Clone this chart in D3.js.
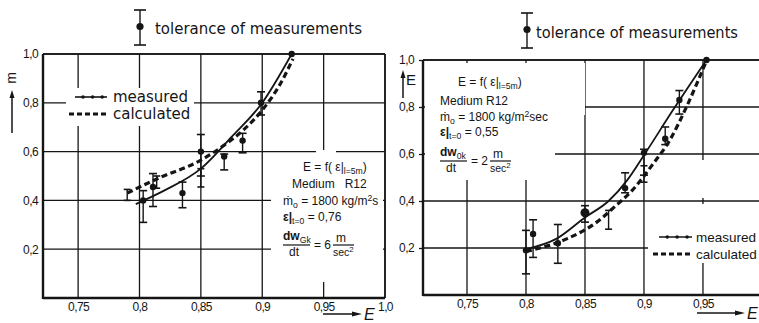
<!DOCTYPE html>
<html>
<head>
<meta charset="utf-8">
<script src="https://cdn.jsdelivr.net/npm/d3@7/dist/d3.min.js"></script>
<style>
  body { margin: 0; background: #fff; }
  svg { display: block; }
  text { font-family: "Liberation Sans", "DejaVu Sans", sans-serif; fill: #151515; }
</style>
</head>
<body>
<svg id="chart" width="759" height="323"></svg>
<script>
// tick values / labels
const xTicks = [0.75, 0.8, 0.85, 0.9, 0.95, 1.0];
const xTickLabels = ["0,75", "0,8", "0,85", "0,9", "0,95", "1,0"];
const yTicks = [0.2, 0.4, 0.6, 0.8, 1.0];
const yTickLabels = ["0,2", "0,4", "0,6", "0,8", "1,0"];

// left panel: m over eps (measured points with tolerance)
const leftEps  = [0.803, 0.811, 0.835, 0.85, 0.869, 0.884, 0.899, 0.924];
const leftM    = [0.40, 0.455, 0.43, 0.60, 0.58, 0.645, 0.80, 1.0];
const leftLow  = [0.31, 0.375, 0.37, 0.50, 0.525, 0.595, 0.75, 1.0];
const leftHigh = [0.44, 0.51, 0.475, 0.67, 0.59, 0.675, 0.845, 1.0];
// measured fit (solid) and calculated (dashed)
const leftFitEps  = [0.797, 0.82, 0.85, 0.875, 0.9, 0.924];
const leftFitM    = [0.385, 0.44, 0.53, 0.66, 0.80, 1.0];
const leftCalcEps = [0.79, 0.815, 0.85, 0.87, 0.885, 0.9, 0.915, 0.925];
const leftCalcM   = [0.43, 0.49, 0.565, 0.63, 0.69, 0.77, 0.88, 0.98];
const leftCalcErrEps  = [0.79, 0.814, 0.85];
const leftCalcErrLow  = [0.40, 0.45, 0.455];
const leftCalcErrHigh = [0.445, 0.50, 0.53];

// right panel: E over eps
const rightEps  = [0.80, 0.806, 0.827, 0.85, 0.884, 0.90, 0.918, 0.93, 0.953];
const rightE    = [0.19, 0.26, 0.22, 0.35, 0.455, 0.605, 0.665, 0.83, 1.0];
const rightLow  = [0.09, 0.16, 0.135, 0.31, 0.435, 0.51, 0.64, 0.77, 1.0];
const rightHigh = [0.275, 0.32, 0.30, 0.38, 0.52, 0.62, 0.715, 0.87, 1.0];
const rightFitEps  = [0.80, 0.826, 0.85, 0.87, 0.886, 0.90, 0.925, 0.953];
const rightFitE    = [0.195, 0.24, 0.33, 0.40, 0.49, 0.595, 0.79, 1.0];
const rightCalcEps = [0.80, 0.835, 0.86, 0.875, 0.89, 0.908, 0.922, 0.936, 0.952];
const rightCalcE   = [0.185, 0.24, 0.31, 0.375, 0.445, 0.56, 0.66, 0.80, 0.985];
const rightCalcErrEps  = [0.87, 0.90];
const rightCalcErrLow  = [0.28, 0.48];
const rightCalcErrHigh = [0.36, 0.55];

const svg = d3.select("#chart");
const ink = "#151515";

const zip = (a, b) => a.map((v, i) => [v, b[i]]);

function errorBar(g, cx, y1, y2, w) {
  g.append("line").attr("x1", cx).attr("x2", cx).attr("y1", y1).attr("y2", y2)
    .attr("stroke", ink).attr("stroke-width", 1.4);
  [y1, y2].forEach(yy => g.append("line").attr("x1", cx - w / 2).attr("x2", cx + w / 2)
    .attr("y1", yy).attr("y2", yy).attr("stroke", ink).attr("stroke-width", 1.6));
}

function drawPanel(p) {
  const g = svg.append("g");
  const x = d3.scaleLinear().domain(p.xDomain).range(p.xRange);
  const y = d3.scaleLinear().domain([0, 1]).range(p.yRange);
  const [x0, x1] = p.xRange;
  const [yb, yt] = p.yRange;

  // grid
  const grid = g.append("g").attr("stroke", ink).attr("stroke-width", 1.3);
  grid.selectAll(".gx").data(p.xTicks).enter().append("line")
    .attr("x1", d => x(d)).attr("x2", d => x(d)).attr("y1", yt).attr("y2", yb);
  grid.selectAll(".gy").data(yTicks).enter().append("line")
    .attr("x1", x0).attr("x2", x1).attr("y1", d => y(d)).attr("y2", d => y(d));

  // masks behind annotation and legend
  p.masks.forEach(m => g.append("rect").attr("x", m[0]).attr("y", m[1])
    .attr("width", m[2]).attr("height", m[3]).attr("fill", "#fff"));

  // frame
  g.append("line").attr("x1", x0).attr("x2", x0).attr("y1", yt).attr("y2", yb + 1)
    .attr("stroke", ink).attr("stroke-width", 2.4);
  g.append("line").attr("x1", x0).attr("x2", x1).attr("y1", yb).attr("y2", yb)
    .attr("stroke", ink).attr("stroke-width", 2.4);
  g.append("line").attr("x1", x0).attr("x2", x1).attr("y1", yt).attr("y2", yt)
    .attr("stroke", ink).attr("stroke-width", 1.6);
  if (p.rightEdge) g.append("line").attr("x1", x1).attr("x2", x1).attr("y1", yt).attr("y2", yb)
    .attr("stroke", ink).attr("stroke-width", 1.6);

  // axes (labels only)
  const xa = g.append("g").attr("transform", `translate(0,${yb})`)
    .call(d3.axisBottom(x).tickValues(p.xTicks)
      .tickFormat(d => xTickLabels[xTicks.indexOf(d)]).tickSize(0).tickPadding(4));
  const ya = g.append("g").attr("transform", `translate(${x0},0)`)
    .call(d3.axisLeft(y).tickValues(yTicks)
      .tickFormat(d => yTickLabels[yTicks.indexOf(d)]).tickSize(p.yTickSize).tickPadding(5));
  [xa, ya].forEach(a => {
    a.select(".domain").remove();
    a.selectAll("text").attr("font-size", 12).attr("fill", ink).attr("letter-spacing", -0.6)
      .style("font-family", "'Liberation Sans', sans-serif");
    a.selectAll("line").attr("stroke", ink).attr("stroke-width", 1.3);
  });

  // curves
  const line = d3.line().x(d => x(d[0])).y(d => y(d[1])).curve(d3.curveMonotoneX);
  g.append("path").datum(zip(p.calcEps, p.calcVal)).attr("d", line)
    .attr("fill", "none").attr("stroke", ink).attr("stroke-width", 3.2)
    .attr("stroke-dasharray", "6,3.5");
  g.append("path").datum(zip(p.fitEps, p.fitVal)).attr("d", line)
    .attr("fill", "none").attr("stroke", ink).attr("stroke-width", 1.8);

  // calculated tolerance bars
  p.calcErrEps.forEach((e, i) => errorBar(g, x(e), y(p.calcErrHigh[i]), y(p.calcErrLow[i]), 7));

  // measured points with tolerance
  p.eps.forEach((e, i) => {
    if (p.high[i] !== p.low[i]) errorBar(g, x(e), y(p.high[i]), y(p.low[i]), 8);
    g.append("circle").attr("cx", x(e)).attr("cy", y(p.val[i])).attr("r", i === p.bigDot ? 4.5 : 3.2)
      .attr("fill", ink);
  });

  // top tolerance legend
  const tl = p.tolLegend;
  errorBar(g, tl.x, tl.y1, tl.y2, 12);
  g.append("circle").attr("cx", tl.x).attr("cy", (tl.y1 + tl.y2) / 2 - 1).attr("r", 3.6).attr("fill", ink);
  g.append("text").attr("x", tl.tx).attr("y", tl.ty).attr("font-size", 15)
    .attr("textLength", tl.tw).attr("lengthAdjust", "spacingAndGlyphs")
    .style("font-family", "'DejaVu Sans', sans-serif").text("tolerance of measurements");

  // measured / calculated legend
  const lg = p.legend;
  g.append("line").attr("x1", lg.x1).attr("x2", lg.x2).attr("y1", lg.y).attr("y2", lg.y)
    .attr("stroke", ink).attr("stroke-width", 1.6);
  [0.25, 0.55, 0.85].forEach(f => g.append("circle")
    .attr("cx", lg.x1 + f * (lg.x2 - lg.x1)).attr("cy", lg.y).attr("r", 1.8).attr("fill", ink));
  g.append("line").attr("x1", lg.x1 - 6).attr("x2", lg.x2).attr("y1", lg.y + 17).attr("y2", lg.y + 17)
    .attr("stroke", ink).attr("stroke-width", 3.2).attr("stroke-dasharray", "5,3");
  g.append("text").attr("x", lg.tx).attr("y", lg.y + 5).attr("font-size", lg.fs)
    .style("font-family", lg.font).text("measured");
  g.append("text").attr("x", lg.tx).attr("y", lg.y + 22).attr("font-size", lg.fs)
    .style("font-family", lg.font).text("calculated");

  // annotation block
  const an = p.note;
  const fs = 12;
  let t = g.append("text").attr("x", an.x + an.dx0).attr("y", an.y).attr("font-size", fs);
  t.append("tspan").text("E = f( ε|");
  t.append("tspan").attr("font-size", "72%").attr("dy", 3).text("l=5m");
  t.append("tspan").attr("dy", -3).text(")");
  g.append("text").attr("x", an.x + an.dx1).attr("y", an.y + an.dy[0]).attr("font-size", fs)
    .attr("xml:space", "preserve").text(an.medium);
  t = g.append("text").attr("x", an.x).attr("y", an.y + an.dy[1]).attr("font-size", fs);
  t.append("tspan").text("ṁ");
  t.append("tspan").attr("font-size", "72%").attr("dy", 3).text("o");
  t.append("tspan").attr("dy", -3).text(" = 1800 kg/m");
  t.append("tspan").attr("font-size", "72%").attr("dy", -4).text("2");
  t.append("tspan").attr("dy", 4).text(an.unit);
  t = g.append("text").attr("x", an.x).attr("y", an.y + an.dy[2]).attr("font-size", fs);
  t.append("tspan").attr("font-weight", "bold").text("ε|");
  t.append("tspan").attr("font-size", "72%").attr("dy", 3).text("t=0");
  t.append("tspan").attr("dy", -3).text(" = " + an.eps0);
  // fraction dw/dt
  const fy = an.y + an.dy[3];
  t = g.append("text").attr("x", an.x).attr("y", fy).attr("font-size", fs).attr("font-weight", "bold");
  t.append("tspan").text("dw");
  t.append("tspan").attr("font-size", "72%").attr("dy", 3).attr("font-weight", "normal").text(an.wsub);
  g.append("line").attr("x1", an.x).attr("x2", an.x + 27).attr("y1", fy + 5).attr("y2", fy + 5)
    .attr("stroke", ink).attr("stroke-width", 1.2);
  g.append("text").attr("x", an.x + 6).attr("y", fy + 16).attr("font-size", fs).text("dt");
  g.append("text").attr("x", an.x + 31).attr("y", fy + 9).attr("font-size", fs).text("= " + an.rate);
  g.append("text").attr("x", an.x + 53).attr("y", fy + 2).attr("font-size", fs).text("m");
  g.append("line").attr("x1", an.x + 50).attr("x2", an.x + 71).attr("y1", fy + 5).attr("y2", fy + 5)
    .attr("stroke", ink).attr("stroke-width", 1.2);
  t = g.append("text").attr("x", an.x + 50).attr("y", fy + 16).attr("font-size", 10.5);
  t.append("tspan").text("sec");
  t.append("tspan").attr("font-size", "75%").attr("dy", -4).text("2");

  // axis names with arrows
  const ya2 = p.yName;
  g.append("line").attr("x1", ya2.ax).attr("x2", ya2.ax).attr("y1", ya2.ay2).attr("y2", ya2.ay1 + 5)
    .attr("stroke", ink).attr("stroke-width", 1.5);
  g.append("path").attr("d", `M${ya2.ax - 2.5},${ya2.ay1 + 8}L${ya2.ax},${ya2.ay1}L${ya2.ax + 2.5},${ya2.ay1 + 8}Z`)
    .attr("fill", ink);
  if (ya2.rotate) {
    g.append("text").attr("transform", `translate(${ya2.tx},${ya2.ty}) rotate(-90)`)
      .attr("text-anchor", "middle").attr("font-size", 14).text(ya2.label);
  } else {
    g.append("text").attr("x", ya2.tx).attr("y", ya2.ty).attr("font-size", 15).text(ya2.label);
  }
  const xn = p.xName;
  g.append("line").attr("x1", xn.x1).attr("x2", xn.x2 - 6).attr("y1", xn.y).attr("y2", xn.y)
    .attr("stroke", ink).attr("stroke-width", 1.5);
  g.append("path").attr("d", `M${xn.x2 - 10},${xn.y - 2.5}L${xn.x2},${xn.y}L${xn.x2 - 10},${xn.y + 2.5}Z`)
    .attr("fill", ink);
  g.append("text").attr("x", xn.x2 + 2).attr("y", xn.y + 6).attr("font-size", 16)
    .attr("font-style", "italic").text("E");
}

drawPanel({
  xDomain: [0.7214, 1.0], xRange: [43, 385], yRange: [298, 54],
  xTicks: [0.75, 0.8, 0.85, 0.9, 0.95, 1.0], yTickSize: 0, rightEdge: true,
  eps: leftEps, val: leftM, low: leftLow, high: leftHigh, bigDot: -1,
  fitEps: leftFitEps, fitVal: leftFitM, calcEps: leftCalcEps, calcVal: leftCalcM,
  calcErrEps: leftCalcErrEps, calcErrLow: leftCalcErrLow, calcErrHigh: leftCalcErrHigh,
  masks: [[66, 88, 128, 38], [271, 156, 112, 112], [316, 150, 20, 132]],
  tolLegend: { x: 140, y1: 10, y2: 45, tx: 155, ty: 34, tw: 207 },
  legend: { x1: 75, x2: 107, y: 97, tx: 113, fs: 15, font: "'DejaVu Sans', sans-serif" },
  note: { x: 283, y: 171, dx0: 20, dx1: 9, dy: [17, 34, 50, 69], medium: "Medium   R12",
    unit: "s", eps0: "0,76", wsub: "Gk", rate: "6" },
  yName: { ax: 12, ay1: 90, ay2: 133, tx: 16, ty: 78, label: "m", rotate: true },
  xName: { x1: 323, x2: 362, y: 314 }
});

drawPanel({
  xDomain: [0.7127, 0.9975], xRange: [423, 759], yRange: [295, 60],
  xTicks: [0.75, 0.8, 0.85, 0.9, 0.95], yTickSize: 4, rightEdge: false,
  eps: rightEps, val: rightE, low: rightLow, high: rightHigh, bigDot: 3,
  fitEps: rightFitEps, fitVal: rightFitE, calcEps: rightCalcEps, calcVal: rightCalcE,
  calcErrEps: rightCalcErrEps, calcErrLow: rightCalcErrLow, calcErrHigh: rightCalcErrHigh,
  masks: [[425, 63, 130, 117], [555, 63, 30, 52], [648, 223, 111, 40],
    [698, 160, 10, 38], [698, 204, 10, 44]],
  tolLegend: { x: 527, y1: 13, y2: 48, tx: 536, ty: 38, tw: 202 },
  legend: { x1: 659, x2: 692, y: 237, tx: 696, fs: 13.5, font: "'Liberation Sans', sans-serif" },
  note: { x: 440, y: 86, dx0: 18, dx1: 0, dy: [19, 35, 50, 70], medium: "Medium R12",
    unit: "sec", eps0: "0,55", wsub: "0k", rate: "2" },
  yName: { ax: 403, ay1: 70, ay2: 98, tx: 406, ty: 85, label: "E", rotate: false },
  xName: { x1: 697, x2: 745, y: 313 }
});
</script>
</body>
</html>
